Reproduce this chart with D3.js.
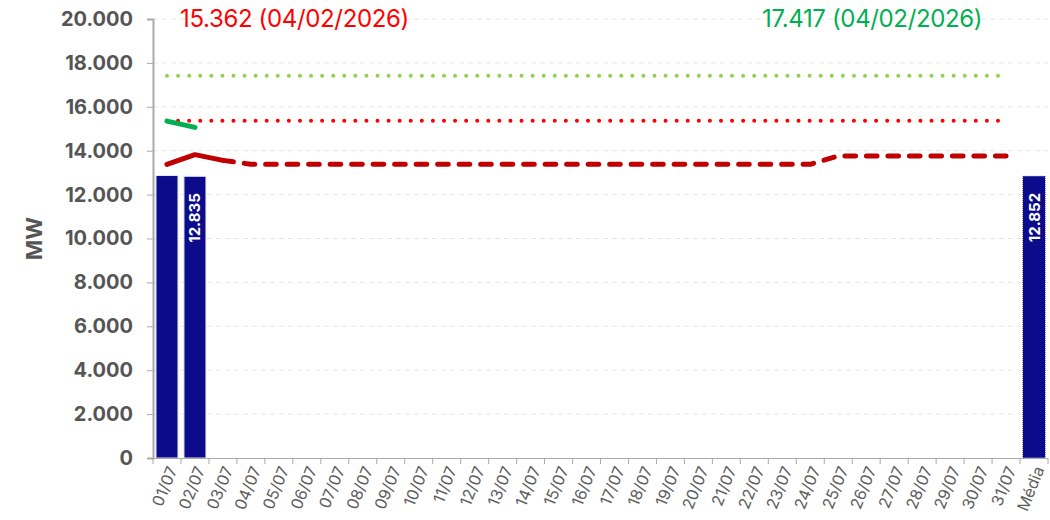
<!DOCTYPE html>
<html>
<head>
<meta charset="utf-8">
<script src="https://cdn.jsdelivr.net/npm/d3@7"></script>
<style>
  html, body { margin: 0; padding: 0; background: #ffffff; }
  svg { display: block; }
  text { font-family: Inter, "Liberation Sans", Arial, sans-serif; }
</style>
</head>
<body>
<svg id="chart" width="1050" height="520"></svg>
<script>
// Daily load for July (MW)
const days = ["01/07","02/07","03/07","04/07","05/07","06/07","07/07","08/07","09/07","10/07",
  "11/07","12/07","13/07","14/07","15/07","16/07","17/07","18/07","19/07","20/07",
  "21/07","22/07","23/07","24/07","25/07","26/07","27/07","28/07","29/07","30/07","31/07"];
const averageLabel = "Média";
const categories = days.concat([averageLabel]);

// Verified daily values (bars) and their average
const verified = [12869, 12835];
const verifiedLabels = [null, "12.835"];
const average = 12852;
const averageText = "12.852";

// Forecast for the month (solid where already elapsed, dashed ahead)
const forecast = [13380, 13820, 13560,
  13380, 13380, 13380, 13380, 13380, 13380, 13380, 13380, 13380, 13380, 13380,
  13380, 13380, 13380, 13380, 13380, 13380, 13380, 13380, 13380, 13380,
  13760, 13760, 13760, 13760, 13760, 13760, 13760];
const solidUntil = 2; // index where the dashed part begins

// Daily maximum so far
const dailyMax = [15350, 15060];

// Historical records
const recordVerified = 15362;
const recordVerifiedText = "15.362 (04/02/2026)";
const recordForecast = 17417;
const recordForecastText = "17.417 (04/02/2026)";

const yTicks = [0, 2000, 4000, 6000, 8000, 10000, 12000, 14000, 16000, 18000, 20000];
const yLabel = "MW";

// ---- layout
const plotLeft = 153, plotRight = 1048, plotTop = 19, plotBottom = 458;
const svg = d3.select("#chart");

const x = d3.scaleBand().domain(categories).range([plotLeft, plotRight]).paddingInner(0).paddingOuter(0);
const y = d3.scaleLinear().domain([0, 20000]).range([plotBottom, plotTop]);
const cx = c => x(c) + x.bandwidth() / 2;
const fmt = v => d3.format(",")(v).replace(/,/g, ".");

// gridlines
svg.append("g").selectAll("line").data(yTicks.filter(v => v > 0)).join("line")
  .attr("x1", plotLeft).attr("x2", plotRight)
  .attr("y1", d => y(d)).attr("y2", d => y(d))
  .attr("stroke", "#e3e6ea").attr("stroke-width", 1).attr("stroke-dasharray", "5,4");

// bars
const barW = 22;
svg.append("g").selectAll("rect").data(verified).join("rect")
  .attr("x", (d, i) => cx(days[i]) - barW / 2)
  .attr("y", d => y(d))
  .attr("width", barW)
  .attr("height", d => plotBottom - y(d))
  .attr("fill", "#0b0b8c")
  .attr("stroke", "#e4e9f1").attr("stroke-width", 1);

// average bar with dotted outline
svg.append("rect")
  .attr("x", cx(averageLabel) - barW / 2 - 0.5)
  .attr("y", y(average))
  .attr("width", barW + 1)
  .attr("height", plotBottom - y(average))
  .attr("fill", "#0b0b8c")
  .attr("stroke", "#ffffff").attr("stroke-width", 1).attr("stroke-dasharray", "1,1");

// bar value labels
const barLabelData = verified.map((v, i) => ({ cat: days[i], v, t: verifiedLabels[i] }))
  .filter(d => d.t)
  .concat([{ cat: averageLabel, v: average, t: averageText }]);
svg.append("g").selectAll("text").data(barLabelData).join("text")
  .attr("transform", d => `translate(${cx(d.cat)},${y(d.v) + 17}) rotate(-90)`)
  .attr("text-anchor", "end")
  .attr("dominant-baseline", "central")
  .attr("fill", "#ffffff")
  .attr("font-size", 15).attr("font-weight", 700)
  .text(d => d.t);

// record reference lines (dotted)
const firstX = cx(days[0]), lastX = cx(days[days.length - 1]);
[[recordForecast, "#92d050"], [recordVerified, "#ff0000"]].forEach(([v, c]) => {
  svg.append("line")
    .attr("x1", firstX).attr("x2", lastX)
    .attr("y1", y(v)).attr("y2", y(v))
    .attr("stroke", c).attr("stroke-width", 4)
    .attr("stroke-linecap", "round").attr("stroke-dasharray", "0,11.08");
});

// forecast line
const line = d3.line().x(d => cx(d.c)).y(d => y(d.v));
const fc = forecast.map((v, i) => ({ c: days[i], v }));
svg.append("path").datum(fc.slice(solidUntil))
  .attr("d", line).attr("fill", "none")
  .attr("stroke", "#c00000").attr("stroke-width", 5)
  .attr("stroke-linecap", "round").attr("stroke-linejoin", "round")
  .attr("stroke-dasharray", "10.6,10.9");
svg.append("path").datum(fc.slice(0, solidUntil + 1))
  .attr("d", line).attr("fill", "none")
  .attr("stroke", "#c00000").attr("stroke-width", 5)
  .attr("stroke-linecap", "round").attr("stroke-linejoin", "round");

// daily maximum line
svg.append("path").datum(dailyMax.map((v, i) => ({ c: days[i], v })))
  .attr("d", line).attr("fill", "none")
  .attr("stroke", "#00b050").attr("stroke-width", 5)
  .attr("stroke-linecap", "round").attr("stroke-linejoin", "round");

// y axis
const yAxis = d3.axisLeft(y).tickValues(yTicks).tickFormat(fmt).tickSize(6).tickPadding(14);
const gy = svg.append("g").attr("transform", `translate(${plotLeft},0)`).call(yAxis);
gy.select(".domain").attr("stroke", "#a9a9a9").attr("stroke-width", 2);
gy.selectAll(".tick line").attr("stroke", "#a9a9a9");
gy.selectAll(".tick text").attr("font-size", 20).attr("font-weight", 700).attr("fill", "#555555")
  .attr("font-family", "Inter, sans-serif");

// x axis: ticks on band edges, labels rotated under band centres
const edges = categories.map(c => x(c)).concat([plotRight]);
svg.append("line").attr("x1", plotLeft).attr("x2", plotRight).attr("y1", plotBottom + 0.5).attr("y2", plotBottom + 0.5)
  .attr("stroke", "#a9a9a9").attr("stroke-width", 1);
svg.append("g").selectAll("line").data(edges).join("line")
  .attr("x1", d => d).attr("x2", d => d)
  .attr("y1", plotBottom).attr("y2", plotBottom + 6)
  .attr("stroke", "#a9a9a9");
svg.append("g").selectAll("text").data(categories).join("text")
  .attr("transform", d => `translate(${cx(d) + 5},${plotBottom + 9}) rotate(-68)`)
  .attr("text-anchor", "end")
  .attr("dominant-baseline", "central")
  .attr("font-size", 16).attr("fill", "#5e5e5e")
  .text(d => d);

// y axis title
svg.append("text")
  .attr("transform", `translate(34,${(plotTop + plotBottom) / 2}) rotate(-90)`)
  .attr("text-anchor", "middle").attr("dominant-baseline", "central")
  .attr("font-size", 22).attr("font-weight", 700).attr("fill", "#555555")
  .text(yLabel);

// record annotations
svg.append("text").attr("x", 180).attr("y", 27)
  .attr("font-size", 24).attr("letter-spacing", -0.35).attr("fill", "#ff0000")
  .attr("font-family", "'Liberation Sans', Arial, sans-serif")
  .text(recordVerifiedText);
svg.append("text").attr("x", 762).attr("y", 27)
  .attr("font-size", 24).attr("letter-spacing", -0.35).attr("fill", "#00b050")
  .attr("font-family", "'Liberation Sans', Arial, sans-serif")
  .text(recordForecastText);
</script>
</body>
</html>
